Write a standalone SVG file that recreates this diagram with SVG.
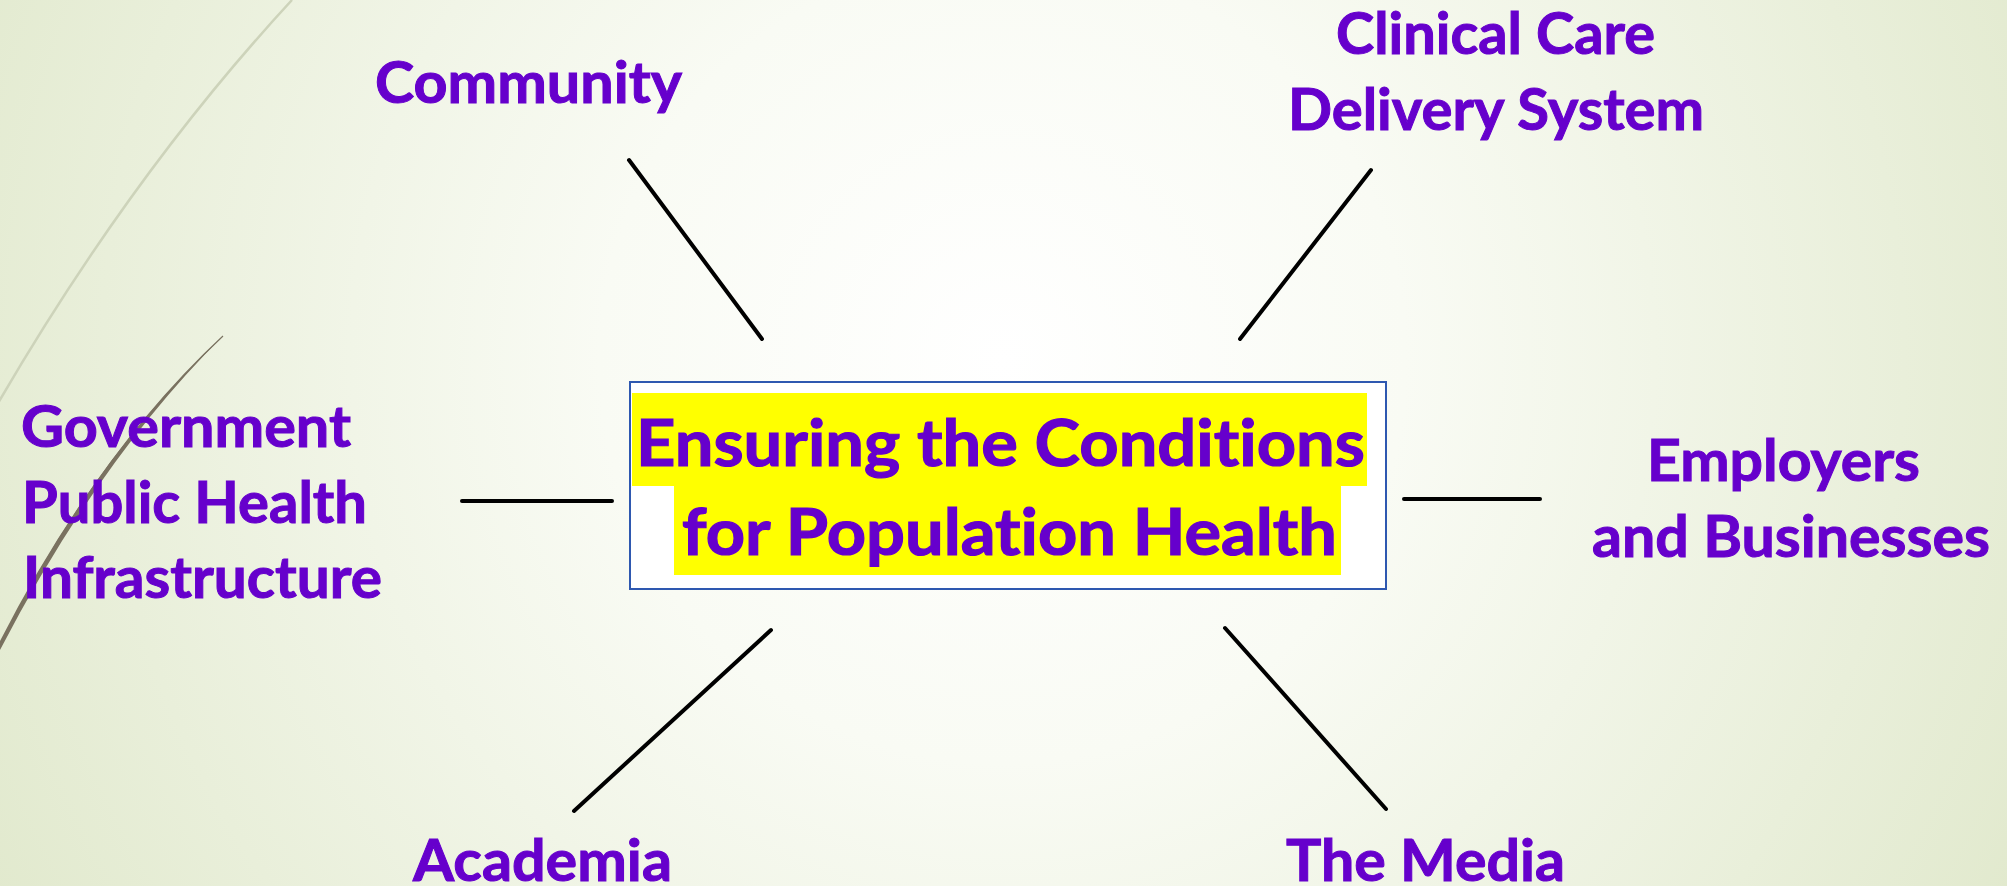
<svg xmlns="http://www.w3.org/2000/svg" width="2007" height="886" viewBox="0 0 2007 886">
<style>
.lbl{font-family:Lato,"Open Sans","Liberation Sans",sans-serif;font-weight:700;fill:#6600CC;stroke:#6600CC;stroke-width:1;font-size:57px;font-variant-ligatures:none;font-feature-settings:"liga" 0,"clig" 0}
.big{font-size:65px;stroke-width:1.2}
.conn{stroke:#000;stroke-width:4;stroke-linecap:round;fill:none}
</style>
<defs>
<radialGradient id="bg" cx="1003" cy="360" r="1150" gradientUnits="userSpaceOnUse">
<stop offset="0" stop-color="#FFFFFF"/>
<stop offset="0.35" stop-color="#F9FBF4"/>
<stop offset="1" stop-color="#E1E9CD"/>
</radialGradient>
</defs>
<rect x="0" y="0" width="2007" height="886" fill="url(#bg)"/>
<g id="decor">
<path d="M292,0 Q130,175 -6,410" fill="none" stroke="#CDD3BA" stroke-width="2.5"/>
<path d="M223,336 Q95,455 0,641 L0,650 Q99,459 223,336 Z" fill="#7A7260"/>
<path d="M223,336 Q95,455 0,645" fill="none" stroke="#7A7260" stroke-width="1.2"/>
</g>
<g id="connectors">
<line class="conn" x1="629" y1="160" x2="762" y2="339"/>
<line class="conn" x1="1371" y1="170" x2="1240" y2="339"/>
<line class="conn" x1="462" y1="501" x2="612" y2="501"/>
<line class="conn" x1="1404" y1="499" x2="1540" y2="499"/>
<line class="conn" x1="771" y1="630" x2="574" y2="811"/>
<line class="conn" x1="1225" y1="628" x2="1386" y2="809"/>
</g>
<g id="center">
<rect x="630" y="382" width="756" height="207" fill="#FFFFFF" stroke="#2E58B0" stroke-width="2"/>
<rect x="632" y="393" width="735" height="93" fill="#FFFF00"/>
<rect x="674" y="486" width="667" height="89" fill="#FFFF00"/>
<text class="lbl big" x="636" y="466" textLength="729" lengthAdjust="spacingAndGlyphs">Ensuring the Conditions</text>
<text class="lbl big" x="682" y="555" textLength="655" lengthAdjust="spacingAndGlyphs">for Population Health</text>
</g>
<g id="community">
<text class="lbl" x="375" y="103" textLength="307" lengthAdjust="spacingAndGlyphs">Community</text>
</g>
<g id="clinical">
<text class="lbl" x="1336" y="54" textLength="319" lengthAdjust="spacingAndGlyphs">Clinical Care</text>
<text class="lbl" x="1288" y="130" textLength="416" lengthAdjust="spacingAndGlyphs">Delivery System</text>
</g>
<g id="government">
<text class="lbl" x="21" y="447" textLength="330" lengthAdjust="spacingAndGlyphs">Government</text>
<text class="lbl" x="22" y="523" textLength="345" lengthAdjust="spacingAndGlyphs">Public Health</text>
<text class="lbl" x="23" y="598" textLength="359" lengthAdjust="spacingAndGlyphs">Infrastructure</text>
</g>
<g id="employers">
<text class="lbl" x="1647" y="481" textLength="273" lengthAdjust="spacingAndGlyphs">Employers</text>
<text class="lbl" x="1592" y="557" textLength="398" lengthAdjust="spacingAndGlyphs">and Businesses</text>
</g>
<g id="academia">
<text class="lbl" x="413" y="881" textLength="259" lengthAdjust="spacingAndGlyphs">Academia</text>
</g>
<g id="media">
<text class="lbl" x="1286" y="881" textLength="279" lengthAdjust="spacingAndGlyphs">The Media</text>
</g>
</svg>
